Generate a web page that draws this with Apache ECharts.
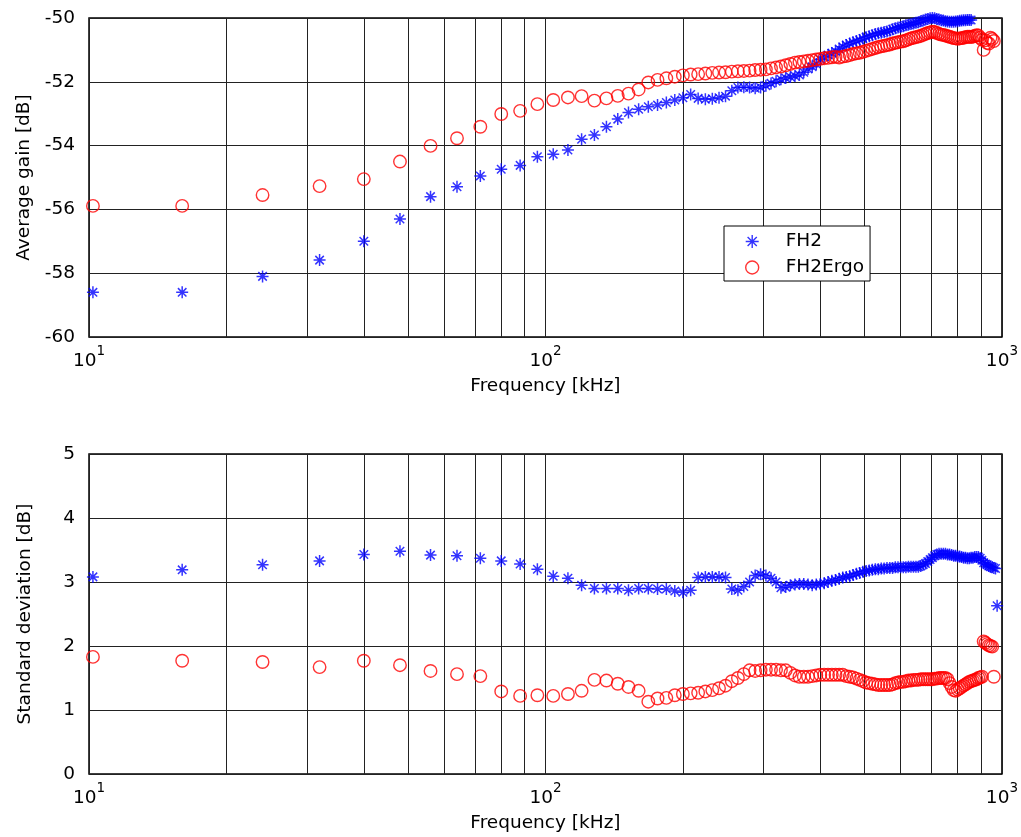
<!DOCTYPE html>
<html><head><meta charset="utf-8">
<script src="https://cdn.jsdelivr.net/npm/echarts@6/dist/echarts.min.js"></script>
<style>html,body{margin:0;padding:0;background:#fff}#c{width:1021px;height:837px}</style>
</head><body><div id="c"></div>
<script>
// Frequencies [kHz]
const freqs = [10.2, 16, 24, 32, 40, 48, 56, 64, 72, 80, 88, 96, 104, 112, 120, 128, 136, 144, 152, 160,
  168, 176, 184, 192, 200, 208, 216, 224, 232, 240, 248, 256, 264, 272, 280, 288, 296, 304, 312, 320,
  328, 336, 344, 352, 360, 368, 376, 384, 392, 400, 408, 416, 424, 432, 440, 448, 456, 464, 472, 480,
  488, 496, 504, 512, 520, 528, 536, 544, 552, 560, 568, 576, 584, 592, 600, 608, 616, 624, 632, 640,
  648, 656, 664, 672, 680, 688, 696, 704, 712, 720, 728, 736, 744, 752, 760, 768, 776, 784, 792, 800,
  808, 816, 824, 832, 840, 848, 856, 864, 872, 880, 888, 896, 904, 912, 920, 928, 936, 944, 952, 960,
  968, 976, 984];

// Average gain [dB]
const gainFH2 = [-58.60, -58.60, -58.10, -57.59, -57.00, -56.30, -55.60, -55.29, -54.95, -54.74,
  -54.62, -54.35, -54.27, -54.14, -53.80, -53.67, -53.41, -53.17, -52.96, -52.86,
  -52.78, -52.73, -52.65, -52.57, -52.50, -52.40, -52.52, -52.55, -52.53, -52.50,
  -52.45, -52.28, -52.18, -52.17, -52.18, -52.20, -52.18, -52.12, -52.05, -51.98,
  -51.92, -51.88, -51.85, -51.82, -51.79, -51.70, -51.60, -51.53, -51.44, -51.30,
  -51.22, -51.16, -51.10, -51.05, -50.97, -50.90, -50.85, -50.80, -50.76, -50.72,
  -50.69, -50.64, -50.60, -50.57, -50.54, -50.50, -50.48, -50.46, -50.44, -50.42,
  -50.39, -50.35, -50.32, -50.30, -50.28, -50.26, -50.23, -50.21, -50.19, -50.17,
  -50.15, -50.13, -50.10, -50.08, -50.05, -50.03, -50.01, -50.00, -50.01, -50.03,
  -50.05, -50.07, -50.08, -50.10, -50.11, -50.12, -50.12, -50.12, -50.11, -50.10,
  -50.09, -50.08, -50.07, -50.07, -50.06, -50.06, -50.06, null, null, null,
  null, null, null, null, null, null, null, null, null, null,
  null, null, null];
const gainFH2Ergo = [-55.89, -55.89, -55.55, -55.27, -55.05, -54.50, -54.01, -53.77, -53.41, -53.01,
  -52.91, -52.70, -52.57, -52.49, -52.45, -52.59, -52.52, -52.44, -52.37, -52.24,
  -52.02, -51.94, -51.89, -51.84, -51.80, -51.77, -51.76, -51.74, -51.72, -51.71,
  -51.70, -51.68, -51.67, -51.66, -51.65, -51.63, -51.62, -51.61, -51.58, -51.55,
  -51.52, -51.48, -51.44, -51.40, -51.38, -51.36, -51.34, -51.32, -51.30, -51.28,
  -51.26, -51.25, -51.23, -51.22, -51.24, -51.21, -51.19, -51.16, -51.13, -51.11,
  -51.09, -51.06, -51.03, -51.00, -50.97, -50.94, -50.91, -50.89, -50.87, -50.85,
  -50.83, -50.80, -50.78, -50.76, -50.74, -50.73, -50.70, -50.67, -50.64, -50.62,
  -50.60, -50.58, -50.56, -50.53, -50.50, -50.47, -50.45, -50.43, -50.44, -50.47,
  -50.50, -50.52, -50.53, -50.55, -50.57, -50.59, -50.61, -50.63, -50.64, -50.65,
  -50.64, -50.63, -50.62, -50.60, -50.59, -50.59, -50.60, -50.58, -50.56, -50.54,
  -50.55, -50.62, -50.68, -51.00, -50.70, -50.78, -50.80, -50.62, -50.66, -50.72,
  null, null, null];

// Standard deviation [dB]
const stdFH2 = [3.08, 3.19, 3.27, 3.33, 3.43, 3.48, 3.42, 3.41, 3.37, 3.33,
  3.28, 3.20, 3.09, 3.06, 2.95, 2.90, 2.90, 2.90, 2.87, 2.90,
  2.90, 2.89, 2.89, 2.86, 2.84, 2.87, 3.07, 3.08, 3.08, 3.08,
  3.07, 2.89, 2.87, 2.93, 3.00, 3.10, 3.12, 3.10, 3.06, 3.00,
  2.91, 2.92, 2.95, 2.96, 2.97, 2.97, 2.96, 2.95, 2.96, 2.97,
  2.98, 3.00, 3.02, 3.03, 3.05, 3.07, 3.08, 3.09, 3.11, 3.13,
  3.14, 3.16, 3.17, 3.18, 3.19, 3.20, 3.20, 3.21, 3.21, 3.22,
  3.22, 3.22, 3.23, 3.23, 3.23, 3.23, 3.23, 3.24, 3.24, 3.24,
  3.24, 3.24, 3.25, 3.27, 3.29, 3.32, 3.35, 3.38, 3.41, 3.43,
  3.44, 3.44, 3.44, 3.44, 3.43, 3.43, 3.42, 3.41, 3.41, 3.40,
  3.40, 3.39, 3.38, 3.38, 3.37, 3.37, 3.38, 3.38, 3.39, 3.39,
  3.39, 3.37, 3.34, 3.30, 3.28, 3.27, 3.25, 3.24, 3.23, 3.22,
  3.21, 2.63, null];
const stdFH2Ergo = [1.83, 1.77, 1.75, 1.67, 1.77, 1.70, 1.61, 1.56, 1.53, 1.29,
  1.22, 1.23, 1.22, 1.25, 1.30, 1.47, 1.46, 1.41, 1.36, 1.30,
  1.13, 1.18, 1.19, 1.23, 1.25, 1.26, 1.27, 1.29, 1.31, 1.34,
  1.38, 1.45, 1.50, 1.56, 1.62, 1.61, 1.62, 1.63, 1.63, 1.63,
  1.62, 1.62, 1.58, 1.54, 1.52, 1.52, 1.52, 1.53, 1.54, 1.55,
  1.55, 1.55, 1.55, 1.55, 1.55, 1.55, 1.53, 1.52, 1.51, 1.49,
  1.47, 1.45, 1.43, 1.42, 1.41, 1.40, 1.39, 1.39, 1.39, 1.39,
  1.39, 1.40, 1.42, 1.43, 1.44, 1.44, 1.45, 1.46, 1.46, 1.47,
  1.47, 1.47, 1.48, 1.48, 1.48, 1.48, 1.48, 1.48, 1.49, 1.49,
  1.50, 1.50, 1.50, 1.50, 1.48, 1.42, 1.36, 1.31, 1.30, 1.32,
  1.34, 1.36, 1.38, 1.40, 1.42, 1.44, 1.45, 1.46, 1.47, 1.48,
  1.50, 1.51, 1.52, 2.07, 2.05, 2.03, 2.01, 2.00, 1.99, 1.52,
  null, null, null];

const minorGridFreqs = [20, 30, 40, 50, 60, 70, 80, 90, 200, 300, 400, 500, 600, 700, 800, 900];
const seriesNames = ['FH2', 'FH2Ergo'];
const axisTitles = { x: 'Frequency [kHz]', gain: 'Average gain [dB]', std: 'Standard deviation [dB]' };

const FONT = 'DejaVu Sans';
const STAR = 'path://M10,0L10,20M0,10L20,10M2.93,2.93L17.07,17.07M2.93,17.07L17.07,2.93';
const BLUE = '#0000ff', RED = '#ff0000', GRID = '#222';

function pairs(vals) {
  const out = [];
  freqs.forEach((f, i) => { if (vals[i] != null) out.push([f, vals[i]]); });
  return out;
}

function xAxisCfg(gridIndex) {
  return {
    type: 'log', logBase: 10, min: 10, max: 1000, gridIndex,
    name: axisTitles.x, nameLocation: 'middle', nameGap: 40,
    nameTextStyle: { fontFamily: FONT, fontSize: 18.5, color: '#000' },
    axisLine: { show: false }, axisTick: { show: false },
    splitLine: { show: true, lineStyle: { color: GRID, width: 1 } },
    axisLabel: {
      margin: 7, color: '#000',
      formatter: v => '{b|10}{s|' + Math.round(Math.log10(v)) + '}',
      rich: {
        b: { fontFamily: FONT, fontSize: 18.5, lineHeight: 27, verticalAlign: 'bottom', color: '#000' },
        s: { fontFamily: FONT, fontSize: 13.5, lineHeight: 13, verticalAlign: 'top', color: '#000' }
      }
    }
  };
}
function yAxisCfg(gridIndex, min, max, interval, name) {
  return {
    type: 'value', gridIndex, min, max, interval,
    name, nameLocation: 'middle', nameGap: 54,
    nameTextStyle: { fontFamily: FONT, fontSize: 18.5, color: '#000' },
    axisLine: { show: false }, axisTick: { show: false },
    splitLine: { show: true, lineStyle: { color: GRID, width: 1 } },
    axisLabel: { margin: 14, fontFamily: FONT, fontSize: 18.5, color: '#000' }
  };
}
function gridMarkLine() {
  return {
    silent: true, symbol: ['none', 'none'], z: 1, animation: false,
    label: { show: false }, emphasis: { disabled: true },
    lineStyle: { type: 'solid', color: GRID, width: 1 },
    data: minorGridFreqs.map(f => ({ xAxis: f }))
  };
}
function starSeries(idx, vals, withGrid) {
  const s = {
    name: seriesNames[0], type: 'scatter', xAxisIndex: idx, yAxisIndex: idx,
    data: pairs(vals), symbol: STAR, symbolSize: 12, clip: false, z: 3,
    itemStyle: { color: 'rgba(0,0,0,0)', borderColor: BLUE, borderWidth: 1.5 },
    emphasis: { disabled: true }
  };
  if (withGrid) s.markLine = gridMarkLine();
  return s;
}
function circleSeries(idx, vals) {
  return {
    name: seriesNames[1], type: 'scatter', xAxisIndex: idx, yAxisIndex: idx,
    data: pairs(vals), symbol: 'circle', symbolSize: 12.5, clip: false, z: 4,
    itemStyle: { color: 'rgba(0,0,0,0)', borderColor: RED, borderWidth: 1.4 },
    emphasis: { disabled: true }
  };
}

const chart = echarts.init(document.getElementById('c'), null, { renderer: 'canvas' });
chart.setOption({
  animation: false,
  backgroundColor: '#fff',
  grid: [
    { left: 89, top: 18, width: 914, height: 319, show: true, borderColor: '#000', borderWidth: 1.5, backgroundColor: 'transparent' },
    { left: 89, top: 454, width: 914, height: 320, show: true, borderColor: '#000', borderWidth: 1.5, backgroundColor: 'transparent' }
  ],
  xAxis: [xAxisCfg(0), xAxisCfg(1)],
  yAxis: [
    yAxisCfg(0, -60, -50, 2, axisTitles.gain),
    yAxisCfg(1, 0, 5, 1, axisTitles.std)
  ],
  legend: {
    data: seriesNames, orient: 'vertical', left: 724, top: 226,
    backgroundColor: '#fff', borderColor: '#000', borderWidth: 1, borderRadius: 0,
    padding: [6, 6, 4, 21], itemGap: 7, itemWidth: 13, itemHeight: 13,
    itemStyle: { borderWidth: 1.4 },
    textStyle: { fontFamily: FONT, fontSize: 18.5, color: '#000', padding: [0, 0, 0, 22] },
    selectedMode: false
  },
  series: [
    starSeries(0, gainFH2, true), circleSeries(0, gainFH2Ergo),
    starSeries(1, stdFH2, true), circleSeries(1, stdFH2Ergo)
  ]
});
</script></body></html>
